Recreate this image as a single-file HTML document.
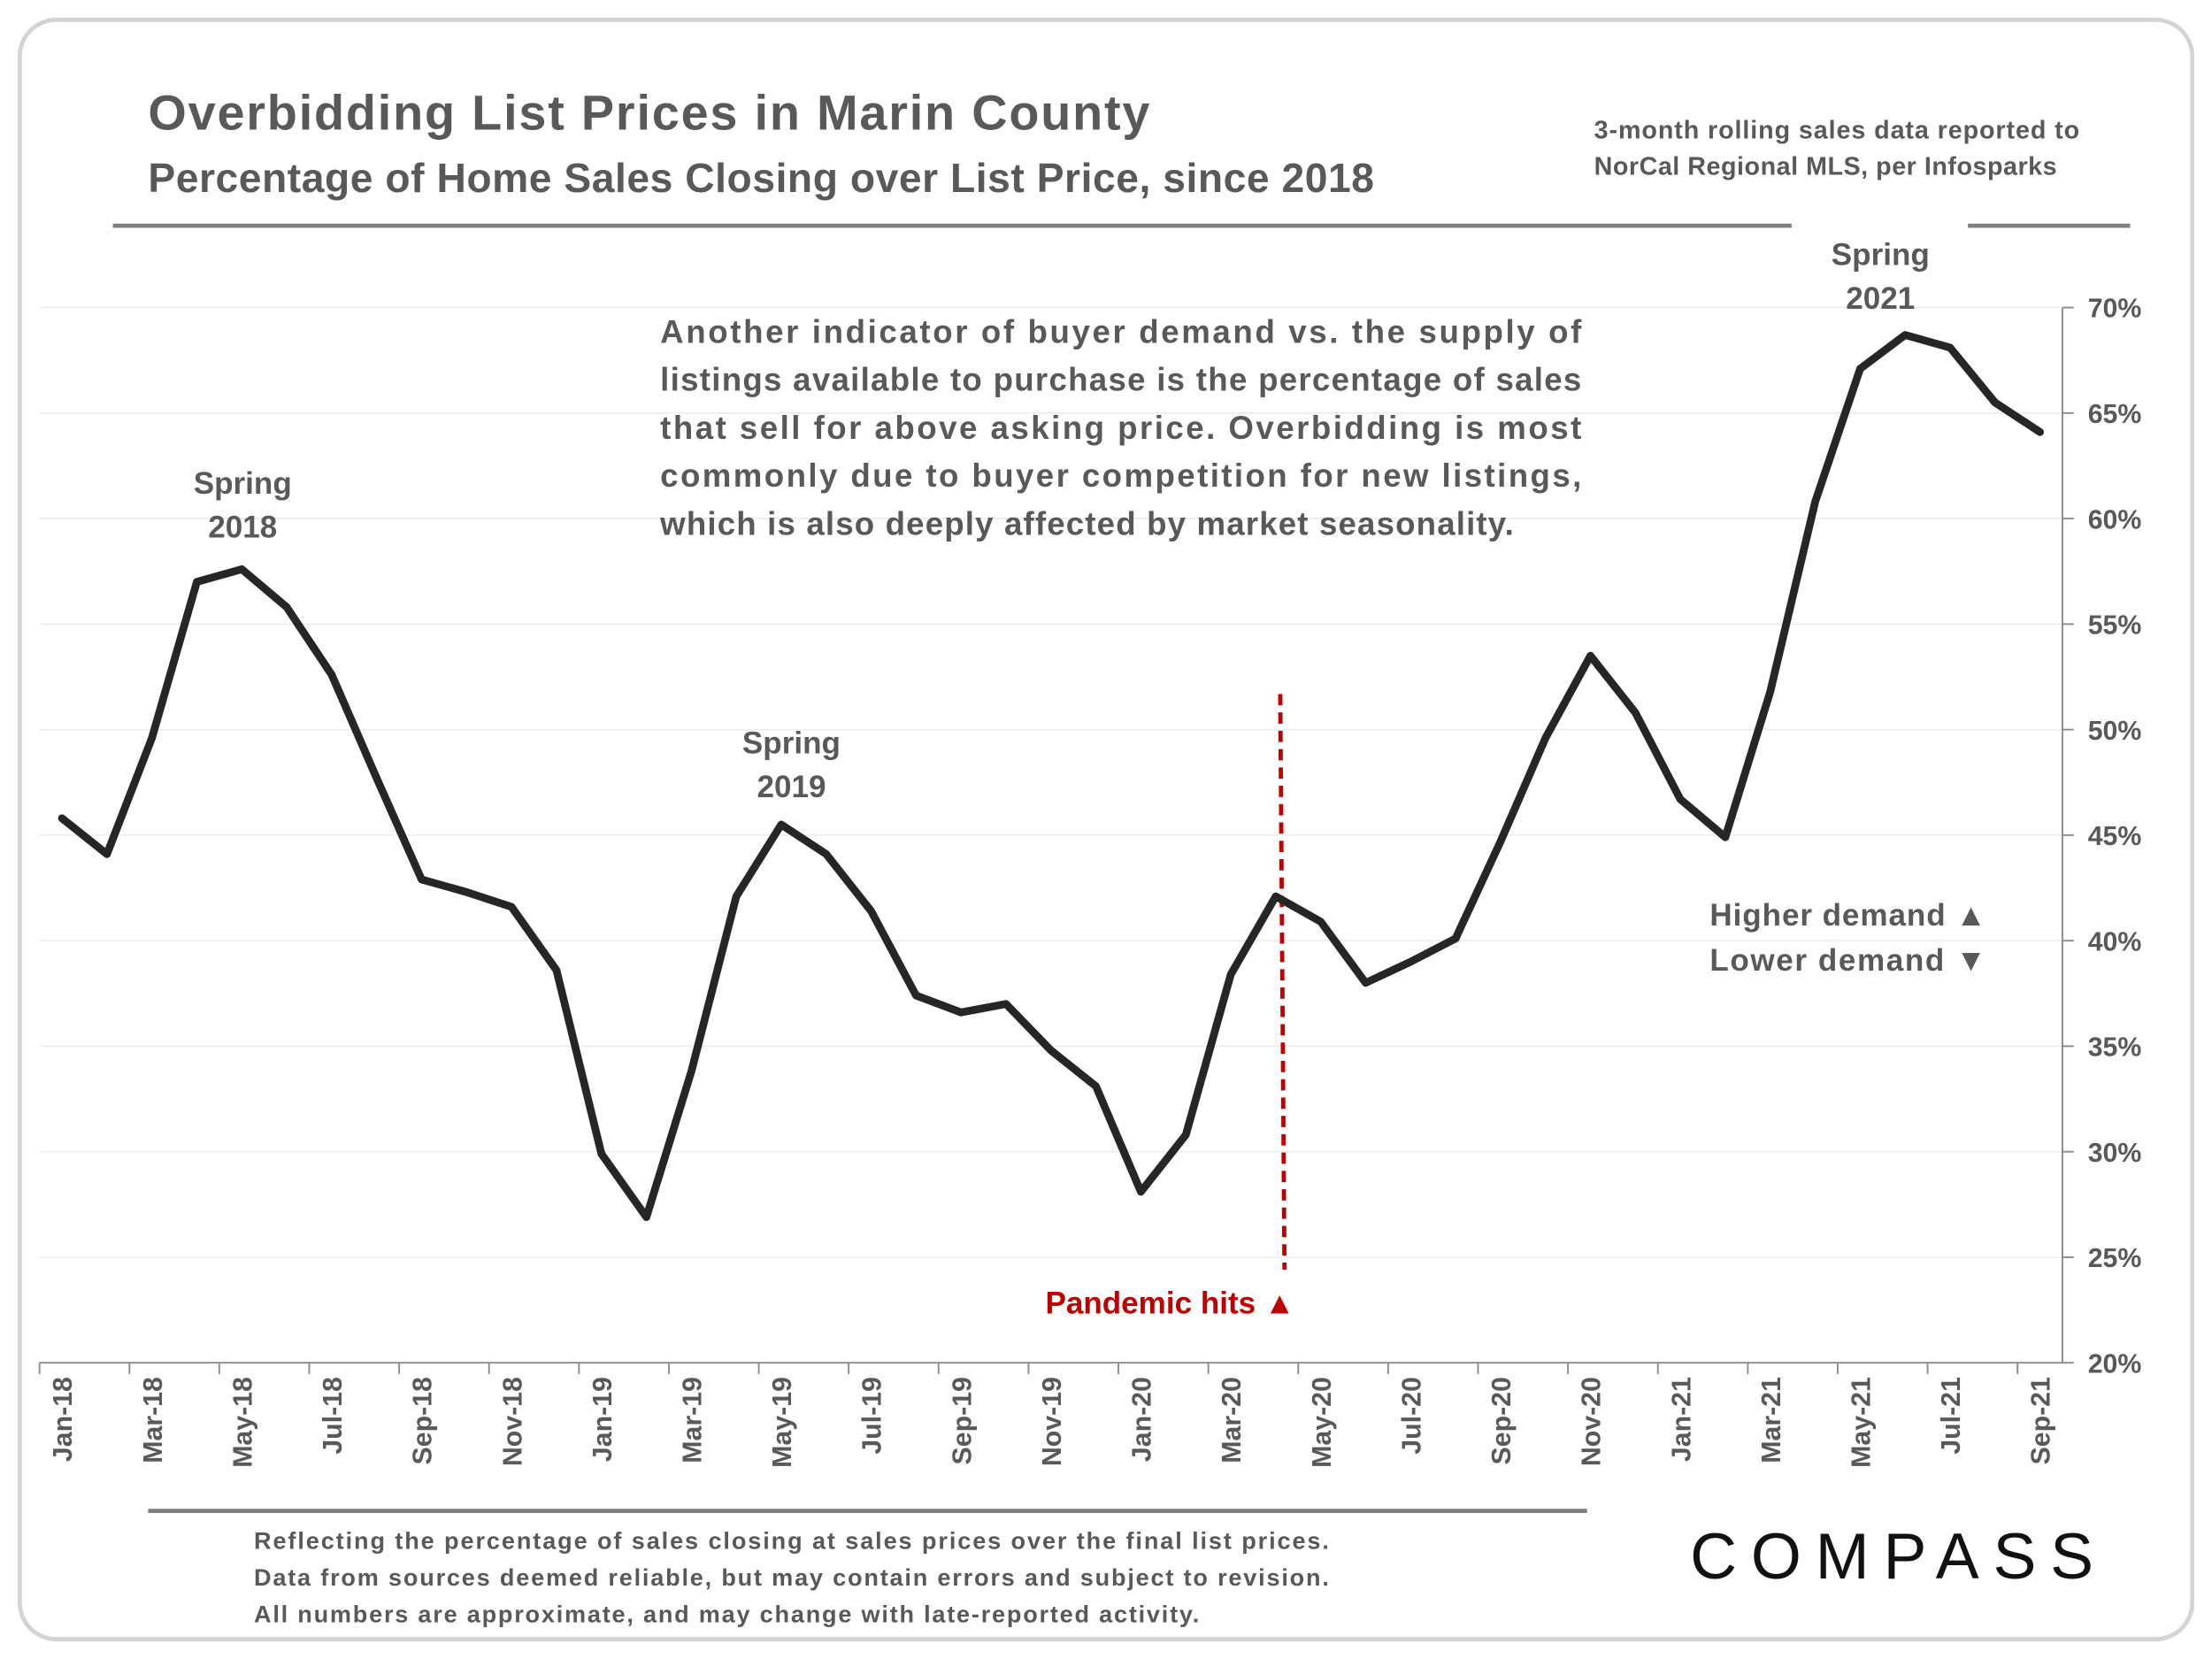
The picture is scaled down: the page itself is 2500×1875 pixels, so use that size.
<!DOCTYPE html>
<html><head><meta charset="utf-8"><style>
html,body{margin:0;padding:0;background:#fff}
svg{display:block}
text{font-family:"Liberation Sans",sans-serif;font-weight:bold}
</style></head><body>
<svg id="chart" width="2500" height="1875" viewBox="0 0 1568 1176" xmlns="http://www.w3.org/2000/svg">
<rect x="14" y="14" width="1540" height="1148" rx="26" fill="#fff" stroke="#d4d4d4" stroke-width="3"/>
<text x="105" y="92" font-size="35" fill="#595959" textLength="710">Overbidding List Prices in Marin County</text>
<text x="105" y="136" font-size="29" fill="#595959" textLength="869">Percentage of  Home Sales Closing over List Price, since 2018</text>
<text x="1130" y="98" font-size="18" fill="#595959" textLength="344">3-month rolling sales data reported to</text>
<text x="1130" y="124" font-size="18" fill="#595959" textLength="328">NorCal Regional MLS, per Infosparks</text>
<line x1="80" y1="160" x2="1270" y2="160" stroke="#7f7f7f" stroke-width="3"/>
<line x1="1395" y1="160" x2="1510" y2="160" stroke="#7f7f7f" stroke-width="3"/>
<g id="grid"></g>
<g id="axes"></g>
<line id="pline" y1="492" y2="900" stroke="#c00000" stroke-width="3" stroke-dasharray="8,5"/>
<text x="741" y="931" font-size="22" fill="#c00000">Pandemic hits ▲</text>
<path id="series" fill="none" stroke="#262626" stroke-width="5.5" stroke-linejoin="round" stroke-linecap="round"/>
<g font-size="22" fill="#595959" text-anchor="middle"><text x="172" y="350">Spring</text><text x="172" y="381">2018</text></g>
<g font-size="22" fill="#595959" text-anchor="middle"><text x="561" y="534">Spring</text><text x="561" y="565">2019</text></g>
<g font-size="22" fill="#595959" text-anchor="middle"><text x="1333" y="188">Spring</text><text x="1333" y="219">2021</text></g>
<g font-size="23" fill="#595959">
<text x="468" y="243" textLength="653" lengthAdjust="spacing">Another indicator of buyer demand vs. the supply of</text>
<text x="468" y="277" textLength="653" lengthAdjust="spacing">listings available to purchase is the percentage of sales</text>
<text x="468" y="311" textLength="653" lengthAdjust="spacing">that sell for above asking price. Overbidding is most</text>
<text x="468" y="345" textLength="653" lengthAdjust="spacing">commonly due to buyer competition for new listings,</text>
<text x="468" y="379" textLength="605" lengthAdjust="spacing">which is also deeply affected by market seasonality.</text>
</g>
<text x="1212" y="656" font-size="22" fill="#595959" textLength="196">Higher demand ▲</text>
<text x="1212" y="688" font-size="22" fill="#595959" textLength="196">Lower demand ▼</text>
<line x1="105" y1="1071" x2="1125" y2="1071" stroke="#7f7f7f" stroke-width="3"/>
<g font-size="17" fill="#595959">
<text x="180" y="1098" textLength="762">Reflecting the percentage of sales closing at sales prices over the final list prices.</text>
<text x="180" y="1124" textLength="762">Data from sources deemed reliable, but may contain errors and subject to revision.</text>
<text x="180" y="1150" textLength="670">All numbers are approximate, and may change with late-reported activity.</text>
</g>
<text x="1198" y="1119" font-size="46" fill="#111" style="font-weight:normal" textLength="286" lengthAdjust="spacing">COMPASS</text>
</svg>
<script>
const categories=["Jan-18","Feb-18","Mar-18","Apr-18","May-18","Jun-18","Jul-18","Aug-18","Sep-18","Oct-18","Nov-18","Dec-18","Jan-19","Feb-19","Mar-19","Apr-19","May-19","Jun-19","Jul-19","Aug-19","Sep-19","Oct-19","Nov-19","Dec-19","Jan-20","Feb-20","Mar-20","Apr-20","May-20","Jun-20","Jul-20","Aug-20","Sep-20","Oct-20","Nov-20","Dec-20","Jan-21","Feb-21","Mar-21","Apr-21","May-21","Jun-21","Jul-21","Aug-21","Sep-21"];
const values=[45.8,44.1,49.6,57.0,57.6,55.8,52.6,47.7,42.9,42.3,41.6,38.6,29.9,26.9,33.8,42.1,45.5,44.1,41.4,37.4,36.6,37.0,34.8,33.1,28.1,30.8,38.4,42.1,40.9,38.0,39.0,40.1,44.7,49.6,53.5,50.8,46.7,44.9,51.8,60.8,67.1,68.7,68.1,65.5,64.1];
const yTicks=[20,25,30,35,40,45,50,55,60,65,70];
const pandemicIndex=27.1;
const NS="http://www.w3.org/2000/svg";
const X0=28,X1=1462,Y0=966,Y1=218,YMIN=20,YMAX=70;
const bw=(X1-X0)/categories.length;
function xs(i){return X0+bw*(i+0.5);}
function ys(v){return Y0-(v-YMIN)/(YMAX-YMIN)*(Y0-Y1);}
function mk(tag,attrs,parent){const e=document.createElementNS(NS,tag);for(const k in attrs)e.setAttribute(k,attrs[k]);parent.appendChild(e);return e;}
const grid=document.getElementById('grid'),axes=document.getElementById('axes');
yTicks.forEach(t=>{
 if(t>YMIN){const g=mk('line',{x1:X0,x2:X1,y1:ys(t),y2:ys(t),stroke:'#ececec','stroke-width':1},grid);
 
 }
 const tk=mk('line',{x1:X1,x2:X1+8,y1:ys(t),y2:ys(t),stroke:'#8c8c8c','stroke-width':1.2},axes);
 
 
 const lb=mk('text',{x:X1+18,y:ys(t)+7,'font-size':19,fill:'#595959'},axes);
 lb.textContent=t+'%';
 
 
});
const ya=mk('line',{x1:X1,x2:X1,y1:Y1,y2:Y0,stroke:'#8c8c8c','stroke-width':1.2},axes);


const xa=mk('line',{x1:X0,x2:X1,y1:Y0,y2:Y0,stroke:'#8c8c8c','stroke-width':1.2},axes);


categories.forEach((c,i)=>{
 if(i%2===0){
  const tk=mk('line',{x1:X0+bw*i,x2:X0+bw*i,y1:Y0,y2:Y0+8,stroke:'#8c8c8c','stroke-width':1.2},axes);
  
  
  const x=xs(i)+7,y=Y0+10;
  const lb=mk('text',{x:x,y:y,'font-size':19,fill:'#595959','text-anchor':'end',transform:`rotate(-90 ${x} ${y})`},axes);
  lb.textContent=c;
  
  
 }
});
document.getElementById('series').setAttribute('d',values.map((v,i)=>(i?'L':'M')+xs(i).toFixed(2)+','+ys(v).toFixed(2)).join(' '));
const pl=document.getElementById('pline');pl.setAttribute('x1',xs(pandemicIndex));pl.setAttribute('x2',xs(pandemicIndex)+3);
</script>
</body></html>
